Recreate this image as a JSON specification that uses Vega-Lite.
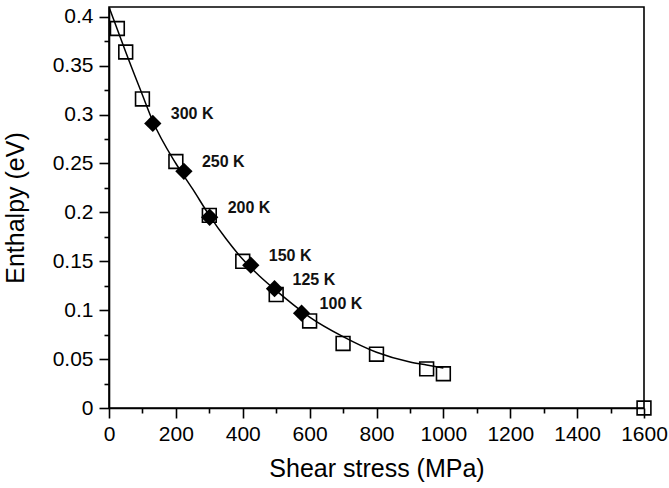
{
  "$schema": "https://vega.github.io/schema/vega-lite/v6.json",
  "autosize": "none",
  "width": 535,
  "height": 401,
  "padding": {"left": 109, "top": 7, "right": 25, "bottom": 80},
  "background": "white",
  "config": {
    "view": {"stroke": "black", "strokeWidth": 1.6},
    "font": "Liberation Sans",
    "axis": {"grid": false, "domainColor": "black", "domainWidth": 1.6, "tickColor": "black", "tickWidth": 1.6, "labelColor": "black", "titleColor": "black", "labelFont": "Liberation Sans", "titleFont": "Liberation Sans", "titleFontWeight": "normal"}
  },
  "datasets": {
    "curve": [
      {"stress": 0, "enthalpy": 0.41},
      {"stress": 25, "enthalpy": 0.387},
      {"stress": 50, "enthalpy": 0.364},
      {"stress": 100, "enthalpy": 0.320},
      {"stress": 130, "enthalpy": 0.294},
      {"stress": 200, "enthalpy": 0.250},
      {"stress": 250, "enthalpy": 0.224},
      {"stress": 300, "enthalpy": 0.197},
      {"stress": 350, "enthalpy": 0.173},
      {"stress": 400, "enthalpy": 0.152},
      {"stress": 450, "enthalpy": 0.135},
      {"stress": 500, "enthalpy": 0.120},
      {"stress": 550, "enthalpy": 0.106},
      {"stress": 600, "enthalpy": 0.093},
      {"stress": 700, "enthalpy": 0.073},
      {"stress": 800, "enthalpy": 0.057},
      {"stress": 900, "enthalpy": 0.047},
      {"stress": 950, "enthalpy": 0.044},
      {"stress": 1000, "enthalpy": 0.041}
    ],
    "squares": [
      {"stress": 25, "enthalpy": 0.388},
      {"stress": 50, "enthalpy": 0.364},
      {"stress": 100, "enthalpy": 0.316},
      {"stress": 200, "enthalpy": 0.252},
      {"stress": 300, "enthalpy": 0.197},
      {"stress": 400, "enthalpy": 0.150},
      {"stress": 500, "enthalpy": 0.116},
      {"stress": 600, "enthalpy": 0.089},
      {"stress": 700, "enthalpy": 0.066},
      {"stress": 800, "enthalpy": 0.055},
      {"stress": 950, "enthalpy": 0.040},
      {"stress": 1000, "enthalpy": 0.035},
      {"stress": 1600, "enthalpy": 0.0}
    ],
    "diamonds": [
      {"stress": 131, "enthalpy": 0.291, "label": "300 K"},
      {"stress": 224, "enthalpy": 0.242, "label": "250 K"},
      {"stress": 301, "enthalpy": 0.195, "label": "200 K"},
      {"stress": 424, "enthalpy": 0.146, "label": "150 K"},
      {"stress": 495, "enthalpy": 0.122, "label": "125 K"},
      {"stress": 576, "enthalpy": 0.097, "label": "100 K"}
    ]
  },
  "encoding": {
    "x": {"field": "stress", "type": "quantitative", "scale": {"domain": [0, 1600], "nice": false},
      "axis": {"values": [0, 100, 200, 300, 400, 500, 600, 700, 800, 900, 1000, 1100, 1200, 1300, 1400, 1500, 1600], "format": "d",
        "labelExpr": "datum.value % 200 === 0 ? datum.label : ''",
        "tickSize": {"condition": {"test": "datum.value % 200 === 0", "value": 10}, "value": 5},
        "labelOverlap": false, "labelFlush": false, "title": "Shear stress (MPa)", "labelFontSize": 21, "titleFontSize": 25, "labelPadding": 5, "titlePadding": 12}},
    "y": {"field": "enthalpy", "type": "quantitative", "scale": {"domain": [0, 0.41], "nice": false},
      "axis": {"values": [0, 0.025, 0.05, 0.075, 0.1, 0.125, 0.15, 0.175, 0.2, 0.225, 0.25, 0.275, 0.3, 0.325, 0.35, 0.375, 0.4], "format": ".2~f",
        "labelExpr": "round(datum.value * 1000) % 50 === 0 ? datum.label : ''",
        "tickSize": {"condition": {"test": "round(datum.value * 1000) % 50 === 0", "value": 10}, "value": 5},
        "labelOverlap": false, "labelFlush": false, "title": "Enthalpy (eV)", "labelFontSize": 21, "titleFontSize": 25, "labelPadding": 6, "titlePadding": 24}}
  },
  "layer": [
    {
      "data": {"name": "curve"},
      "mark": {"type": "line", "color": "black", "strokeWidth": 1.5, "interpolate": "monotone", "clip": true}
    },
    {
      "data": {"name": "squares"},
      "mark": {"type": "point", "shape": "square", "size": 190, "filled": false, "stroke": "black", "strokeWidth": 1.6, "opacity": 1, "clip": false}
    },
    {
      "data": {"name": "diamonds"},
      "mark": {"type": "point", "shape": "diamond", "size": 300, "filled": true, "color": "black", "opacity": 1}
    },
    {
      "data": {"name": "diamonds"},
      "mark": {"type": "text", "align": "left", "baseline": "middle", "dx": 18, "dy": -9, "fontSize": 16, "fontWeight": "bold", "color": "#111"},
      "encoding": {"text": {"field": "label"}}
    }
  ]
}
